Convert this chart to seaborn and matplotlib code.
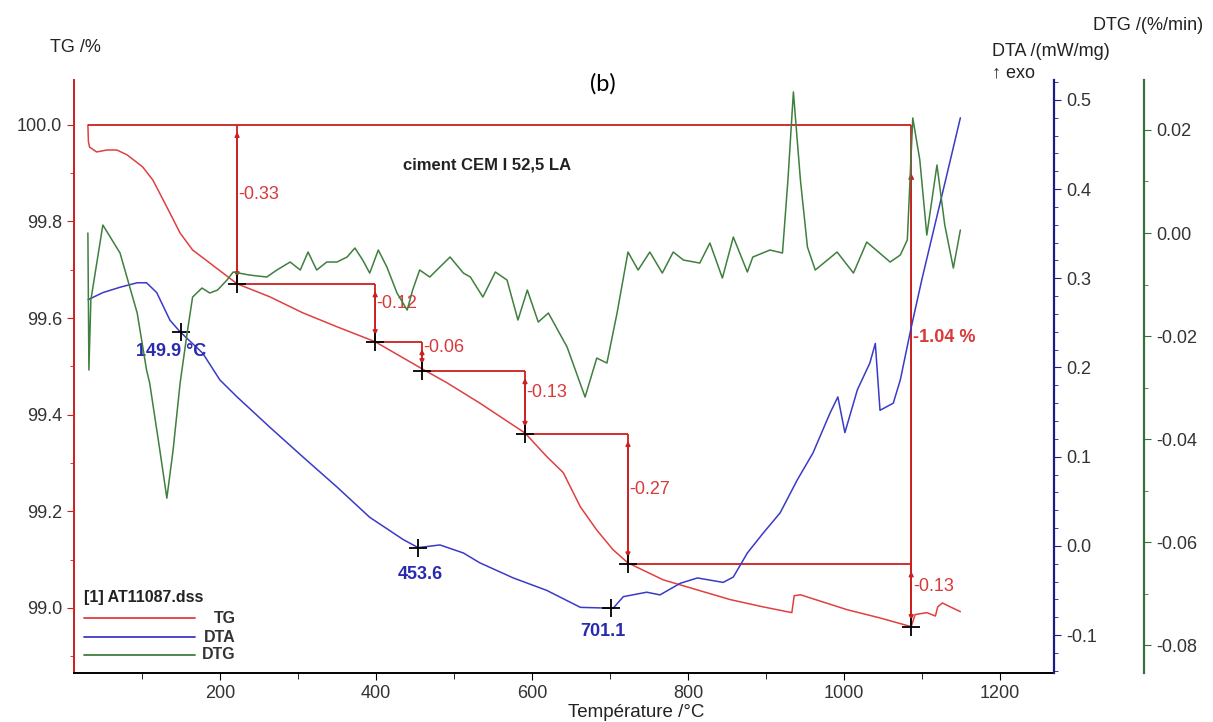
import numpy as np
import pandas as pd
import seaborn as sns
import matplotlib
matplotlib.use("Agg")
import matplotlib.pyplot as plt
from matplotlib.ticker import MultipleLocator, FormatStrFormatter

# TG curve (%)
tg_T = [30.8, 31.5, 33, 42, 55, 68, 81, 101, 114, 132, 149, 165, 187, 222, 264, 306, 350,
        399, 459, 491, 533, 591, 619, 640, 662, 683, 704, 723, 768, 812, 854, 896, 933,
        936, 944, 1004, 1046, 1086, 1091, 1106, 1117, 1120, 1126, 1136, 1149]
tg = [100.0, 99.965, 99.954, 99.944, 99.948, 99.948, 99.938, 99.913, 99.886, 99.830, 99.776,
      99.741, 99.714, 99.671, 99.644, 99.611, 99.582, 99.551, 99.495, 99.466, 99.424,
      99.362, 99.313, 99.280, 99.209, 99.161, 99.120, 99.093, 99.058, 99.037, 99.017,
      99.002, 98.990, 99.025, 99.027, 98.996, 98.979, 98.961, 98.986, 98.990, 98.983,
      99.002, 99.010, 99.002, 98.992]

# DTA curve (mW/mg)
dta_T = [31, 50, 72, 94, 106, 119, 136, 149, 178, 200, 222, 264, 306, 350, 392, 435, 454,
         482, 512, 533, 576, 619, 662, 704, 717, 747, 764, 790, 812, 845, 858, 876, 896,
         918, 940, 960, 982, 992, 1001, 1017, 1033, 1040, 1046, 1063, 1072, 1086, 1100,
         1115, 1130, 1149]
dta = [0.276, 0.284, 0.290, 0.295, 0.295, 0.284, 0.253, 0.240, 0.216, 0.186, 0.167, 0.133,
       0.100, 0.066, 0.032, 0.007, -0.002, 0.001, -0.008, -0.019, -0.036, -0.050, -0.069,
       -0.070, -0.057, -0.052, -0.055, -0.042, -0.036, -0.041, -0.035, -0.008, 0.014,
       0.037, 0.074, 0.104, 0.149, 0.167, 0.127, 0.175, 0.205, 0.227, 0.152, 0.160, 0.186,
       0.245, 0.300, 0.355, 0.410, 0.480]

# DTG curve (%/min)
dtg_T = [30.8, 32.1, 34.6, 50, 72, 94, 106, 110, 123, 132, 140, 149, 158, 165, 177, 187,
         197, 209, 217, 238, 260, 273, 290, 303, 313, 324, 337, 350, 363, 373, 383, 392,
         403, 414, 427, 440, 447, 456, 469, 478, 495, 512, 521, 537, 553, 568, 582, 594,
         608, 621, 645, 668, 683, 696, 709, 723, 736, 751, 767, 781, 794, 815, 828, 844,
         858, 876, 883, 905, 921, 928, 935, 944, 953, 963, 991, 1012, 1029, 1059, 1072,
         1081, 1088, 1097, 1106, 1119, 1129, 1140, 1149]
dtg = [0.0, -0.0266, -0.0130, 0.00155, -0.00388, -0.01553, -0.0266, -0.02913, -0.04214,
       -0.05146, -0.04214, -0.02913, -0.01942, -0.01243, -0.01068, -0.01165, -0.01107,
       -0.00913, -0.00757, -0.00816, -0.00854, -0.00718, -0.00563, -0.00718, -0.00369,
       -0.00718, -0.00563, -0.00563, -0.00466, -0.00291, -0.00524, -0.00777, -0.0033,
       -0.0066, -0.01165, -0.01495, -0.01107, -0.00718, -0.00854, -0.00718, -0.00466,
       -0.00777, -0.00854, -0.01243, -0.00757, -0.00913, -0.01689, -0.01107, -0.01728,
       -0.01553, -0.02214, -0.03184, -0.02427, -0.02524, -0.01553, -0.00369, -0.00718,
       -0.00369, -0.00777, -0.00369, -0.00524, -0.00583, -0.00194, -0.00874, -0.00078,
       -0.00757, -0.00466, -0.0033, -0.00388, 0.0103, 0.02738, 0.0103, -0.00272, -0.00718,
       -0.00369, -0.00777, -0.00175, -0.00563, -0.00427, -0.00136, 0.02233, 0.0142,
       -0.0004, 0.0132, 0.00155, -0.0068, 0.00058]

# mass loss steps
start_T = 30.8
start_TG = 100.0
step_T = [222, 399, 459, 591, 723, 1086]
step_TG = [99.67, 99.55, 99.49, 99.36, 99.09, 98.96]
step_labels = ["-0.33", "-0.12", "-0.06", "-0.13", "-0.27", "-0.13"]
total_label = "-1.04 %"

# DTA peaks
peak_T = [149.9, 453.6, 701.1]
peak_dta = [0.240, -0.002, -0.070]
peak_labels = ["149.9 °C", "453.6", "701.1"]

RED = "#e04040"
DRED = "#cc1f1f"
BLUE = "#3a3ac8"
NAVY = "#1c1c8a"
GREEN = "#3f7f3f"
DGREEN = "#3a6e3a"

sns.set_style("ticks")
plt.rcParams["font.family"] = ["Liberation Sans", "DejaVu Sans"]
plt.rcParams["axes.unicode_minus"] = False

fig = plt.figure(figsize=(12.13, 7.22), dpi=100)
ax = fig.add_axes([74 / 1213, 1 - 673 / 722, 980 / 1213, 593 / 722])
ax2 = ax.twinx()
ax3 = ax.twinx()

sns.lineplot(x=tg_T, y=tg, ax=ax, color=RED, lw=1.1, sort=False, estimator=None)
sns.lineplot(x=dta_T, y=dta, ax=ax2, color=BLUE, lw=1.1, sort=False, estimator=None)
sns.lineplot(x=dtg_T, y=dtg, ax=ax3, color=GREEN, lw=1.1, sort=False, estimator=None)

ax.set_xlim(13, 1269)
ax.set_ylim(98.865, 100.093)
ax2.set_ylim(-0.1426, 0.5224)
ax3.set_ylim(-0.0854, 0.0297)

# spines
ax.spines["top"].set_visible(False)
ax.spines["right"].set_visible(False)
ax.spines["left"].set_color(DRED)
ax.spines["bottom"].set_color("black")
for a in (ax2, ax3):
    for s in ("top", "left", "bottom"):
        a.spines[s].set_visible(False)
ax2.spines["right"].set_color(NAVY)
ax2.spines["right"].set_linewidth(1.6)
ax3.spines["right"].set_position(("axes", 1.0918))
ax3.spines["right"].set_color(DGREEN)
ax3.spines["right"].set_linewidth(1.6)
ax.spines["left"].set_linewidth(1.4)
ax.spines["bottom"].set_linewidth(1.4)

# ticks
ax.xaxis.set_major_locator(MultipleLocator(200))
ax.xaxis.set_minor_locator(MultipleLocator(100))
ax.yaxis.set_major_locator(MultipleLocator(0.2))
ax.yaxis.set_minor_locator(MultipleLocator(0.1))
ax.yaxis.set_major_formatter(FormatStrFormatter("%.1f"))
ax2.yaxis.set_major_locator(MultipleLocator(0.1))
ax2.yaxis.set_minor_locator(MultipleLocator(0.02))
ax2.yaxis.set_major_formatter(FormatStrFormatter("%.1f"))
ax3.yaxis.set_major_locator(MultipleLocator(0.02))
ax3.yaxis.set_minor_locator(MultipleLocator(0.01))
ax3.yaxis.set_major_formatter(FormatStrFormatter("%.2f"))

lab = "#333333"
ax.tick_params(axis="x", which="both", direction="out", color="black", labelcolor=lab,
               labelsize=13)
ax.tick_params(axis="x", which="major", length=5)
ax.tick_params(axis="x", which="minor", length=4)
ax.tick_params(axis="y", which="both", direction="out", color=DRED, labelcolor=lab,
               labelsize=13)
ax.tick_params(axis="y", which="major", length=5)
ax.tick_params(axis="y", which="minor", length=3)
ax2.tick_params(axis="y", which="both", direction="out", color=NAVY, labelcolor=lab,
                labelsize=13)
ax2.tick_params(axis="y", which="major", length=5)
ax2.tick_params(axis="y", which="minor", length=3)
ax3.tick_params(axis="y", which="both", direction="out", color=DGREEN, labelcolor=lab,
                labelsize=13)
ax3.tick_params(axis="y", which="major", length=5)
ax3.tick_params(axis="y", which="minor", length=3)
for a in (ax, ax2, ax3):
    a.set_ylabel("")
ax.set_xlabel("Température /°C", fontsize=13.5, color="#222222")
ax.xaxis.set_label_coords(0.5735, -0.052)

# mass loss construction lines
ax.hlines(start_TG, start_T, step_T[-1], color=DRED, lw=1.3)
prev_TG = [start_TG] + step_TG[:-1]
for i in range(len(step_T)):
    if i < len(step_T) - 1:
        ax.hlines(step_TG[i], step_T[i], step_T[i + 1], color=DRED, lw=1.3)
    ax.vlines(step_T[i], step_TG[i], prev_TG[i], color=DRED, lw=1.3)
    ax.annotate("", xy=(step_T[i], prev_TG[i]), xytext=(step_T[i], step_TG[i]),
                arrowprops=dict(arrowstyle="<|-|>", color=DRED, lw=1.0, mutation_scale=7,
                                shrinkA=5, shrinkB=5))
    ax.text(step_T[i] + 2, (prev_TG[i] + step_TG[i]) / 2 + 0.02, step_labels[i],
            color="#d83a3a", fontsize=13, ha="left", va="center")
ax.vlines(step_T[-1], step_TG[-1], start_TG, color=DRED, lw=1.3)
ax.annotate("", xy=(step_T[-1], start_TG - 0.1), xytext=(step_T[-1], step_TG[-1]),
            arrowprops=dict(arrowstyle="-|>", color=DRED, lw=1.0, mutation_scale=8,
                            shrinkA=0, shrinkB=0))
ax.text(step_T[-1] + 2, (start_TG + step_TG[-1]) / 2 + 0.08, total_label,
        color="#d83a3a", fontsize=13, fontweight="bold", ha="left", va="center")

sns.scatterplot(x=step_T, y=step_TG, ax=ax, marker="+", s=170, color="black",
                linewidth=1.3, zorder=5)

# DTA peak markers
sns.scatterplot(x=peak_T, y=peak_dta, ax=ax2, marker="+", s=170, color="black",
                linewidth=1.3, zorder=5)
offsets = [(-7, -14), (1.5, -19.5), (-6, -17)]
for t, v, s, off in zip(peak_T, peak_dta, peak_labels, offsets):
    ax2.annotate(s, xy=(t, v), xytext=off, textcoords="offset points", ha="center",
                 va="center", color="#2a2ab0", fontsize=13, fontweight="bold")

ax.text(0.4214, 0.8567, "ciment CEM I 52,5 LA", transform=ax.transAxes, ha="center",
        va="center", fontsize=12, fontweight="bold", color="#222222")

# legend block
ax.text(0.0102, 0.1265, "[1] AT11087.dss", transform=ax.transAxes, ha="left",
        va="center", fontsize=11.5, fontweight="bold", color="#222222")
for yy, c, name in [(0.0927, RED, "TG"), (0.0607, BLUE, "DTA"), (0.0304, GREEN, "DTG")]:
    ax.plot([0.0102, 0.1235], [yy, yy], color=c, lw=1.3, transform=ax.transAxes)
    ax.text(0.165, yy, name, transform=ax.transAxes, ha="right", va="center",
            fontsize=11.5, fontweight="bold", color="#333333")

# axis titles
fig.text(75 / 1213, 1 - 47 / 722, "TG /%", ha="center", va="center", fontsize=13,
         color="#222222")
fig.text(992 / 1213, 1 - 52 / 722, "DTA /(mW/mg)", ha="left", va="center", fontsize=13,
         color="#222222")
fig.text(992 / 1213, 1 - 73 / 722, "↑ exo", ha="left", va="center", fontsize=13,
         color="#222222")
fig.text(1203 / 1213, 1 - 25 / 722, "DTG /(%/min)", ha="right", va="center", fontsize=13,
         color="#222222")
fig.text(603 / 1213, 1 - 84 / 722, "(b)", ha="center", va="center", fontsize=17,
         family=["Lato", "DejaVu Sans"], color="black")

fig.savefig("out.png", dpi=100)
